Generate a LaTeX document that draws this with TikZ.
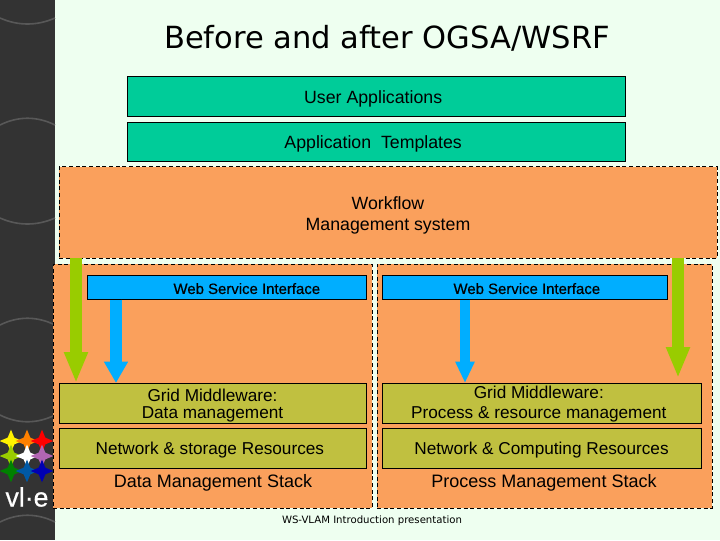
\documentclass[tikz,border=0pt]{standalone}
\usepackage{fontspec}
\setmainfont{Liberation Sans}
\newfontfamily\titlefont{DejaVu Sans}
\newfontfamily\wsifont{Liberation Sans}[FakeBold=0.5]
\usepackage{xcolor}
\definecolor{pagebg}{RGB}{238,255,240}
\definecolor{sidebar}{RGB}{51,51,51}
\definecolor{sidewave}{RGB}{88,88,88}
\definecolor{tealbox}{RGB}{0,204,153}
\definecolor{orangebox}{RGB}{250,160,92}
\definecolor{olivebox}{RGB}{192,192,64}
\definecolor{bluebox}{RGB}{0,174,255}
\definecolor{greenarrow}{RGB}{153,204,0}
\usetikzlibrary{shapes.geometric,arrows.meta,positioning}
\newcommand{\lowertext}[2]{\raisebox{-#1pt}[0pt][0pt]{#2}}
\tikzset{
  box_base/.style={rectangle,draw=black,line width=0.75pt,
    inner sep=0pt,outer sep=0pt,align=center},
  box_app/.style={box_base,fill=tealbox,font=\fontsize{13.3}{15}\selectfont,
    minimum width=373.5pt,minimum height=29.5pt},
  box_stack/.style={box_base,fill=orangebox,densely dashed},
  box_wsi/.style={box_base,fill=bluebox,font=\wsifont\fontsize{11.2}{12}\selectfont,
    minimum height=18pt},
  box_grid/.style={box_base,fill=olivebox,font=\fontsize{12.9}{15}\selectfont,
    minimum height=30pt},
  stack_label/.style={font=\fontsize{13.5}{15}\selectfont,inner sep=0pt},
  arr_green/.style={-{Triangle[length=23.25pt,width=16.5pt]},
    line width=9pt,draw=greenarrow},
  arr_blue/.style={-{Triangle[length=16pt,width=17pt]},
    line width=9pt,draw=bluebox,shorten <=0.4pt},
  logo_star/.style={star,star points=4,star point ratio=2.4,
    minimum size=17pt,inner sep=0pt},
}
\begin{document}
\begin{tikzpicture}[x=0.75pt,y=-0.75pt]
  \useasboundingbox (0,0) rectangle (720,540);

  % page and side strip
  \fill[pagebg] (0,0) rectangle (720,540);
  \fill[sidebar] (0,0) rectangle (55,540);
  \foreach \wy/\wd in {18/8,125/-9,218/8,325/-9,415/9,522/-9}
    \draw[sidewave,line width=1.2pt] (0,\wy)
      .. controls (18,\wy+\wd) and (37,\wy+\wd) .. (55,\wy);

  % logo
  \foreach \sname/\sx/\sy/\scol in {a/11/441/yellow,b/27/441/orange,c/42/441/red,
      d/11/456/greenarrow,e/27/456/white,f/42/456/violet!60!white,
      g/11/471/green!50!black,h/27/471/teal!70!blue,i/42/471/blue!70!black}
    \node (star\sname) [logo_star,fill=\scol] at (\sx,\sy) {};
  \node (logotext) [text=white,font=\wsifont\fontsize{20}{22}\selectfont,inner sep=0pt]
    at (27,497) {vl·e};

  \node (title) [font=\titlefont\fontsize{22.9}{26}\selectfont,inner sep=0pt]
    at (387,38) {Before and after OGSA/WSRF};

  \node (user) [box_app] at (376.5,96.5)
    {\lowertext{5}{User Applications}\hspace*{5pt}};
  \node (templates) [box_app, below=4.5pt of user]
    {\lowertext{4.7}{Application\ \ Templates}\hspace*{5pt}};

  \node (workflow) [box_stack,font=\fontsize{13.3}{15.6}\selectfont,
      minimum width=493.5pt,minimum height=68.5pt] at (388,212.5)
    {\rule{0pt}{13.5pt}Workflow\\Management system};

  \node (stackL) [box_stack,minimum width=239.25pt,minimum height=183pt]
    at (212.5,386) {};
  \node (stackR) [box_stack,minimum width=251.25pt,minimum height=183pt]
    at (544.5,386) {};

  \node (wsiL) [box_wsi,minimum width=209.25pt] at (226.5,287)
    {\hspace*{30.5pt}\lowertext{5.2}{Web Service Interface}};
  \node (wsiR) [box_wsi,minimum width=213.75pt] at (524.5,287)
    {\hspace*{3.5pt}\lowertext{5.2}{Web Service Interface}};

  \node (gridL) [box_grid,minimum width=230.25pt] at (212.5,403)
    {\rule{0pt}{13pt}Grid Middleware:\\[-2.25pt]Data management};
  \node (gridR) [box_grid,minimum width=239.25pt] at (541.5,403)
    {\rule{0pt}{11.5pt}Grid Middleware:\hspace*{4pt}\\Process \& resource management\hspace*{4pt}};

  \node (netL) [box_grid,minimum width=230.25pt, below=3.75pt of gridL]
    {\lowertext{5}{Network \& storage Resources}\hspace*{4pt}};
  \node (netR) [box_grid,minimum width=239.25pt, below=3.75pt of gridR]
    {\lowertext{4.7}{Network \& Computing Resources}};

  \node (labelL) [stack_label] at (213,482.5) {Data Management Stack};
  \node (labelR) [stack_label] at (544,482.5) {Process Management Stack};

  \node (footer) [font=\titlefont\fontsize{7.6}{9}\selectfont,inner sep=0pt]
    at (372,520.5) {WS-VLAM Introduction presentation};

  % arrow columns
  \coordinate (colA) at (76,0);
  \coordinate (colB) at (116,0);
  \coordinate (colC) at (465,0);
  \coordinate (colD) at (678,0);

  \draw[arr_green] (workflow.south -| colA) -- (gridL.north -| colA);
  \draw[arr_blue] (wsiL.south -| colB) -- (gridL.north -| colB);
  \draw[arr_blue,line width=7.5pt,-{Triangle[length=16pt,width=13.5pt]}]
    (wsiR.south -| colC) -- (gridR.north -| colC);
  \draw[arr_green,shorten >=3.75pt] (workflow.south -| colD) -- (gridR.north -| colD);

\end{tikzpicture}
\end{document}
